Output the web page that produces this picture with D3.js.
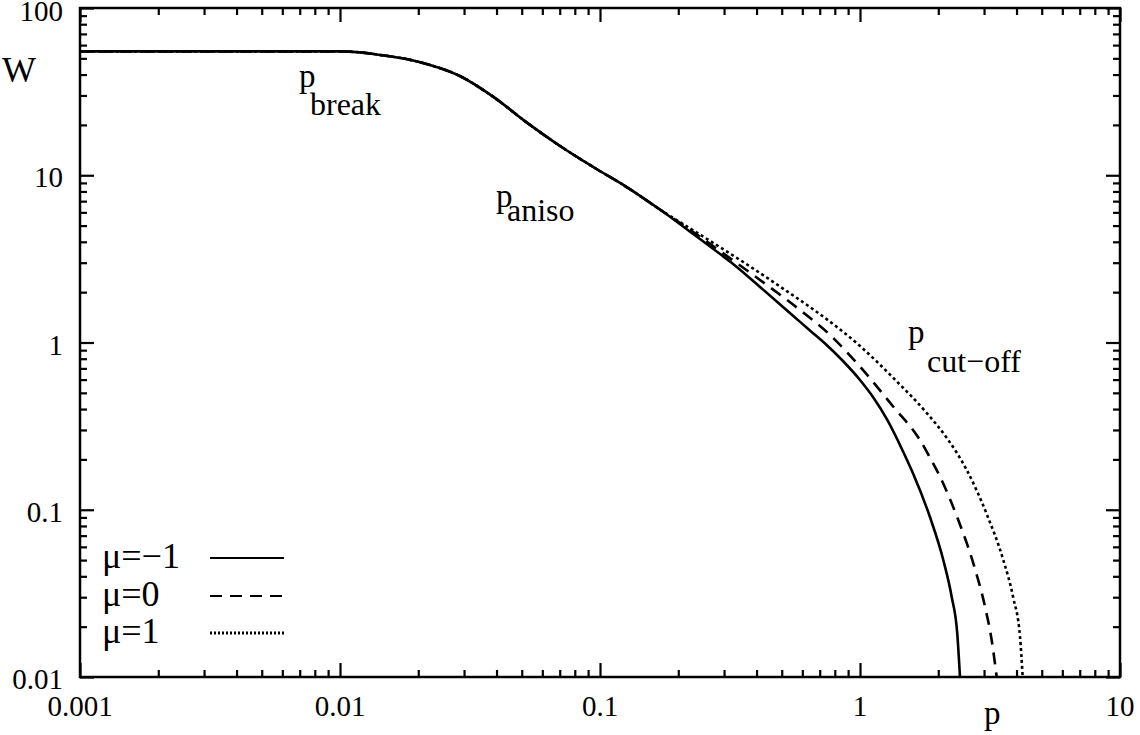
<!DOCTYPE html>
<html>
<head>
<meta charset="utf-8">
<script src="https://cdn.jsdelivr.net/npm/d3@7"></script>
<style>
  body { margin: 0; background: #fff; }
  svg { display: block; }
  text { font-family: "Liberation Serif", "Times New Roman", serif; fill: #000; }
</style>
</head>
<body>
<svg id="chart" width="1140" height="735"></svg>
<script>
// shared part of the three curves (they overlap up to p ~ 0.17)
var sharedP = [0.001, 0.005, 0.01, 0.0119, 0.01426, 0.018, 0.0222, 0.0289, 0.0389, 0.0522, 0.0702, 0.0942, 0.1267, 0.170];
var sharedW = [55, 55, 55, 54.3, 52.4, 49.5, 45.6, 39.2, 29.4, 20.7, 14.96, 11.2, 8.5, 6.24];

// mu = -1 (solid)
var solidP = [0.2285, 0.2897, 0.325, 0.4125, 0.554, 0.642, 0.744, 0.860, 1.0, 1.122, 1.267, 1.467, 1.603, 1.858, 2.091, 2.253, 2.367, 2.424];
var solidW = [4.45, 3.38, 2.95, 2.15, 1.44, 1.18, 0.966, 0.775, 0.597, 0.472, 0.349, 0.2215, 0.1636, 0.0905, 0.0501, 0.0301, 0.0181, 0.01];

// mu = 0 (dashed)
var dashedP = [0.2285, 0.2897, 0.4125, 0.5877, 0.767, 1.0, 1.343, 1.701, 1.858, 2.031, 2.388, 2.728, 3.026, 3.210, 3.356];
var dashedW = [4.58, 3.52, 2.365, 1.564, 1.109, 0.717, 0.413, 0.261, 0.205, 0.1576, 0.0868, 0.0478, 0.0263, 0.0166, 0.01];

// mu = 1 (dotted)
var dottedP = [0.2285, 0.265, 0.3775, 0.5224, 0.642, 0.744, 1.0, 1.343, 1.805, 2.156, 2.573, 3.071, 3.557, 3.887, 4.125, 4.224];
var dottedW = [4.68, 4.05, 2.85, 2.03, 1.63, 1.38, 0.953, 0.614, 0.379, 0.269, 0.173, 0.0943, 0.0501, 0.0297, 0.0174, 0.01];

var xTicks = [0.001, 0.01, 0.1, 1, 10];
var xTickLabels = ["0.001", "0.01", "0.1", "1", "10"];
var yTicks = [0.01, 0.1, 1, 10, 100];
var yTickLabels = ["0.01", "0.1", "1", "10", "100"];

var legendLabels = ["\u03bc=\u22121", "\u03bc=0", "\u03bc=1"];

var plotLeft = 80, plotRight = 1120, plotTop = 8, plotBottom = 677;

var svg = d3.select("#chart");

var x = d3.scaleLog().domain([0.001, 10]).range([plotLeft, plotRight]);
var y = d3.scaleLog().domain([0.01, 100]).range([plotBottom, plotTop]);

// minor ticks 2..9 in each decade
function minors(lo, hi) {
    var out = [];
    for (var d = lo; d < hi * 0.999; d *= 10) {
        for (var k = 2; k <= 9; k++) out.push(d * k);
    }
    return out;
}
var xMinor = minors(0.001, 10);
var yMinor = minors(0.01, 100);

function addAxis(axisFn, scale, values, size, tr) {
    var g = svg.append("g")
      .attr("transform", tr)
      .call(axisFn(scale).tickValues(values).tickSize(-size).tickSizeOuter(0).tickFormat(""));
    g.select(".domain").remove();
    g.selectAll("line").attr("stroke", "#000").attr("stroke-width", 2.2);
    return g;
}

addAxis(d3.axisBottom, x, xTicks, 14, "translate(0," + plotBottom + ")");
addAxis(d3.axisBottom, x, xMinor, 7, "translate(0," + plotBottom + ")");
addAxis(d3.axisTop, x, xTicks, 14, "translate(0," + plotTop + ")");
addAxis(d3.axisTop, x, xMinor, 7, "translate(0," + plotTop + ")");
addAxis(d3.axisLeft, y, yTicks, 14, "translate(" + plotLeft + ",0)");
addAxis(d3.axisLeft, y, yMinor, 7, "translate(" + plotLeft + ",0)");
addAxis(d3.axisRight, y, yTicks, 14, "translate(" + plotRight + ",0)");
addAxis(d3.axisRight, y, yMinor, 7, "translate(" + plotRight + ",0)");

// frame
svg.append("rect")
  .attr("x", plotLeft).attr("y", plotTop)
  .attr("width", plotRight - plotLeft).attr("height", plotBottom - plotTop)
  .attr("fill", "none").attr("stroke", "#000").attr("stroke-width", 2.5);

// tick labels
svg.append("g").selectAll("text")
  .data(xTicks)
  .enter().append("text")
    .attr("x", function(d){ return x(d); })
    .attr("y", 716)
    .attr("text-anchor", "middle")
    .style("font-size", "29px")
    .text(function(d, i){ return xTickLabels[i]; });

svg.append("g").selectAll("text")
  .data(yTicks)
  .enter().append("text")
    .attr("x", 63)
    .attr("y", function(d){ return Math.max(y(d) + 12, 21); })
    .attr("text-anchor", "end")
    .style("font-size", "29px")
    .text(function(d, i){ return yTickLabels[i]; });

// axis titles
svg.append("text").attr("x", 2).attr("y", 82).style("font-size", "36px").text("W");
svg.append("text").attr("x", 984).attr("y", 724).style("font-size", "33px").text("p");

// curves
svg.append("clipPath").attr("id", "plotclip")
  .append("rect").attr("x", plotLeft).attr("y", plotTop)
  .attr("width", plotRight - plotLeft).attr("height", plotBottom - plotTop);

function buildSeries(ps, ws) {
    var pts = sharedP.map(function(p, i){ return [p, sharedW[i]]; });
    return pts.concat(ps.map(function(p, i){ return [p, ws[i]]; }));
}

var series = [
    {pts: buildSeries(solidP, solidW), dash: null},
    {pts: buildSeries(dashedP, dashedW), dash: "12,8"},
    {pts: buildSeries(dottedP, dottedW), dash: "3,3"}
];

var line = d3.line()
    .x(function(d){ return x(d[0]); })
    .y(function(d){ return y(d[1]); })
    .curve(d3.curveMonotoneX);

svg.append("g").attr("clip-path", "url(#plotclip)")
  .selectAll("path")
  .data(series)
  .enter().append("path")
    .attr("d", function(d){ return line(d.pts); })
    .attr("fill", "none")
    .attr("stroke", "#000")
    .attr("stroke-width", 2.6)
    .attr("stroke-dasharray", function(d){ return d.dash; });

// annotations
function annot(px, py, sx, sy, sub) {
    svg.append("text").attr("x", px).attr("y", py).style("font-size", "33px").text("p");
    svg.append("text").attr("x", sx).attr("y", sy).style("font-size", "32px").text(sub);
}
annot(299, 87, 310, 115, "break");
annot(496, 207, 507, 221, "aniso");
annot(908, 343, 927, 372, "cut\u2212off");

// legend
var legendY = [558, 596, 633];
var legendDash = [null, "12,8", "2,2"];
var lg = svg.append("g");
lg.selectAll("text")
  .data(legendLabels)
  .enter().append("text")
    .attr("x", 102)
    .attr("y", function(d, i){ return legendY[i] + 10; })
    .style("font-size", "36px")
    .text(function(d){ return d; });
lg.selectAll("line")
  .data(legendLabels)
  .enter().append("line")
    .attr("x1", 210).attr("x2", 284)
    .attr("y1", function(d, i){ return legendY[i]; })
    .attr("y2", function(d, i){ return legendY[i]; })
    .attr("stroke", "#000")
    .attr("stroke-width", function(d, i){ return i == 2 ? 3 : 2.2; })
    .attr("stroke-dasharray", function(d, i){ return legendDash[i]; });
</script>
</body>
</html>
